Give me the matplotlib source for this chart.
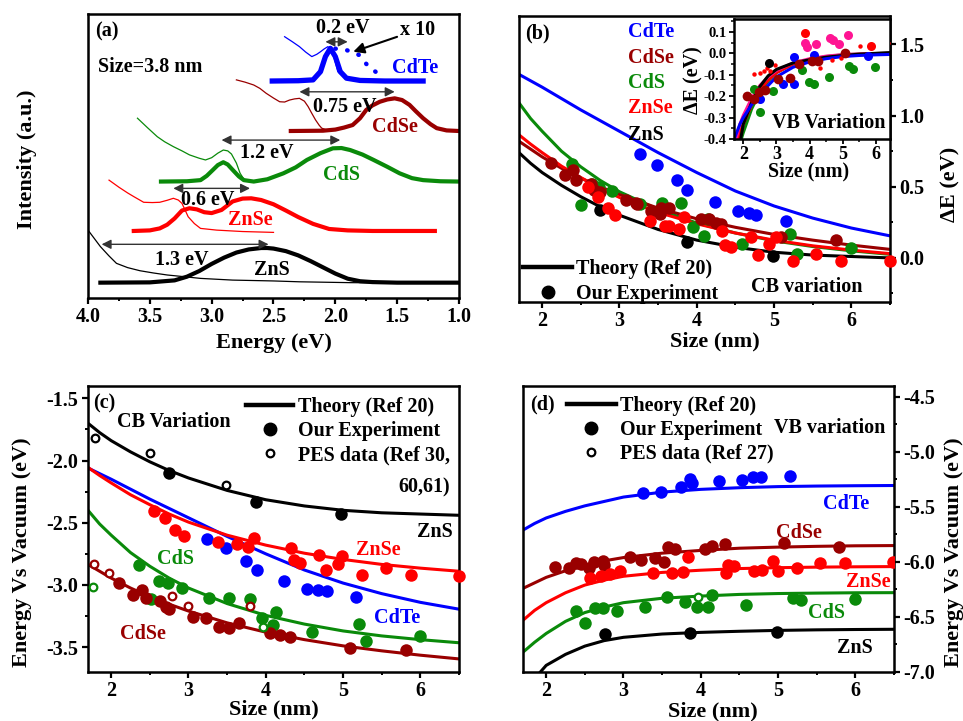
import matplotlib
matplotlib.use('Agg')
import matplotlib.pyplot as plt
from matplotlib.lines import Line2D
from matplotlib.ticker import MultipleLocator, FormatStrFormatter

plt.rcParams['font.family'] = ['Liberation Serif', 'DejaVu Serif']
plt.rcParams['font.weight'] = 'bold'
plt.rcParams['axes.labelweight'] = 'bold'
plt.rcParams['font.size'] = 14.5
plt.rcParams['axes.unicode_minus'] = False
plt.rcParams['axes.linewidth'] = 1.8

BLUE = '#0000ff'
DRED = '#990000'
GREEN = '#0a8a0a'
RED = '#ff0000'
PINK = '#ff1493'
BLACK = '#000000'

# ---------------- panel (a): spectra, size 3.8 nm ----------------
zns_pl_e = [3.90, 3.50, 3.30, 3.20, 3.10, 3.00, 2.90, 2.80, 2.70, 2.60, 2.55, 2.50, 2.40, 2.30, 2.20, 2.10, 2.00, 1.90, 1.80, 1.70, 1.50, 1.00]
zns_pl_i = [0.54, 0.55, 0.62, 0.75, 0.95, 1.20, 1.42, 1.60, 1.71, 1.76, 1.76, 1.74, 1.65, 1.50, 1.30, 1.08, 0.86, 0.68, 0.59, 0.56, 0.54, 0.54]
zns_abs_e = [4.00, 3.95, 3.90, 3.83, 3.77, 3.68, 3.58, 3.47, 3.36, 3.20, 3.09, 2.83, 2.50, 2.29, 1.88, 1.50, 1.00]
zns_abs_i = [2.39, 2.10, 1.81, 1.48, 1.22, 1.07, 0.96, 0.88, 0.81, 0.74, 0.69, 0.63, 0.60, 0.57, 0.54, 0.53, 0.53]

znse_pl_e = [3.63, 3.50, 3.42, 3.36, 3.30, 3.24, 3.18, 3.12, 3.06, 3.00, 2.92, 2.83, 2.75, 2.68, 2.60, 2.50, 2.40, 2.30, 2.18, 2.05, 1.90, 1.70, 1.195]
znse_pl_i = [2.36, 2.38, 2.45, 2.58, 2.80, 3.08, 3.16, 3.12, 3.02, 2.99, 3.10, 3.40, 3.50, 3.51, 3.45, 3.30, 3.08, 2.85, 2.61, 2.43, 2.38, 2.36, 2.36]
znse_abs_e = [3.83, 3.75, 3.68, 3.63, 3.55, 3.48, 3.42, 3.36, 3.31, 3.27, 3.24, 3.21, 3.19, 3.14, 3.09, 2.96, 2.75, 2.50]
znse_abs_i = [4.15, 3.90, 3.70, 3.57, 3.37, 3.36, 3.37, 3.44, 3.51, 3.45, 3.33, 3.05, 2.86, 2.62, 2.45, 2.39, 2.34, 2.31]

cds_pl_e = [3.41, 3.20, 3.09, 3.04, 2.99, 2.95, 2.906, 2.87, 2.83, 2.78, 2.74, 2.66, 2.55, 2.42, 2.32, 2.23, 2.12, 2.02, 1.95, 1.88, 1.78, 1.69, 1.58, 1.48, 1.38, 1.29, 1.15, 1.00]
cds_pl_i = [4.10, 4.11, 4.15, 4.30, 4.51, 4.68, 4.78, 4.70, 4.51, 4.28, 4.15, 4.10, 4.18, 4.39, 4.60, 4.86, 5.10, 5.27, 5.28, 5.21, 5.05, 4.86, 4.62, 4.39, 4.22, 4.15, 4.11, 4.10]
cds_abs_e = [3.60, 3.52, 3.44, 3.38, 3.31, 3.24, 3.18, 3.10, 3.05, 3.00, 2.95, 2.906, 2.87, 2.84, 2.80, 2.77, 2.73]
cds_abs_i = [6.33, 6.00, 5.68, 5.50, 5.33, 5.18, 5.04, 4.92, 4.86, 4.94, 5.10, 5.21, 5.18, 5.07, 4.75, 4.39, 4.12]

cdse_pl_e = [2.36, 2.10, 2.00, 1.93, 1.86, 1.80, 1.75, 1.70, 1.64, 1.58, 1.52, 1.46, 1.40, 1.35, 1.29, 1.23, 1.18, 1.10, 1.00]
cdse_pl_i = [5.88, 5.89, 5.93, 6.00, 6.09, 6.33, 6.62, 6.78, 6.91, 6.99, 7.03, 6.97, 6.80, 6.58, 6.33, 6.12, 5.98, 5.90, 5.88]
cdse_abs_e = [2.80, 2.73, 2.66, 2.61, 2.56, 2.50, 2.45, 2.41, 2.37, 2.33, 2.29, 2.25, 2.22, 2.19, 2.16, 2.13, 2.11, 2.06]
cdse_abs_i = [7.68, 7.60, 7.50, 7.38, 7.21, 7.04, 6.91, 6.90, 6.97, 7.01, 7.03, 6.93, 6.74, 6.50, 6.27, 6.08, 5.98, 5.90]

cdte_pl_e = [2.51, 2.30, 2.18, 2.12, 2.08, 2.04, 2.00, 1.96, 1.91, 1.80, 1.60, 1.29]
cdte_pl_i = [7.64, 7.65, 7.68, 7.97, 8.50, 8.79, 8.50, 7.97, 7.74, 7.66, 7.64, 7.64]
cdte_abs_e = [2.41, 2.35, 2.29, 2.24, 2.19, 2.15, 2.12, 2.09, 2.06, 2.02, 1.98, 1.92]
cdte_abs_i = [9.20, 9.03, 8.85, 8.66, 8.50, 8.58, 8.67, 8.77, 8.85, 8.62, 7.97, 7.74]
cdte_x10_e = [2.00, 1.91, 1.81, 1.73, 1.65]
cdte_x10_i = [8.78, 8.73, 8.56, 8.14, 7.89]

# double arrows (start E, end E, level) and their labels
gap_arrows = [(2.08, 1.90, 9.02), (2.29, 1.52, 7.26), (2.92, 1.96, 5.56), (3.31, 2.69, 3.86), (3.89, 2.54, 1.89)]
gap_labels = ['0.2 eV', '0.75 eV', '1.2 eV', '0.6 eV', '1.3 eV']
gap_label_pos = [(1.94, 9.51), (1.92, 6.74), (2.555, 5.10), (3.03, 3.45), (3.24, 1.34)]

# ---------------- panel (b): CB shift ----------------
th_x = [1.7, 1.85, 2.0, 2.25, 2.5, 2.75, 3.0, 3.5, 4.0, 4.5, 5.0, 5.5, 6.0, 6.5]
b_th_cdte = [1.29, 1.245, 1.20, 1.12, 1.04, 0.965, 0.89, 0.74, 0.60, 0.47, 0.365, 0.28, 0.21, 0.155]
b_th_cds = [1.09, 0.98, 0.89, 0.75, 0.64, 0.545, 0.465, 0.34, 0.245, 0.175, 0.12, 0.08, 0.05, 0.025]
b_th_znse = [0.865, 0.80, 0.74, 0.645, 0.565, 0.49, 0.425, 0.32, 0.24, 0.175, 0.125, 0.085, 0.055, 0.03]
b_th_cdse = [0.82, 0.765, 0.71, 0.63, 0.56, 0.50, 0.445, 0.35, 0.275, 0.215, 0.165, 0.125, 0.09, 0.06]
b_th_zns = [0.74, 0.665, 0.60, 0.51, 0.43, 0.36, 0.30, 0.20, 0.125, 0.075, 0.04, 0.02, 0.01, 0.0]

b_cdte_x = [3.26, 3.49, 3.74, 3.88, 4.24, 4.53, 4.67, 4.77, 5.15]
b_cdte_y = [0.73, 0.65, 0.545, 0.48, 0.39, 0.33, 0.315, 0.30, 0.26]
b_zns_x = [2.75, 3.87, 4.98]
b_zns_y = [0.34, 0.11, 0.01]
b_cds_x = [2.38, 2.50, 2.65, 2.74, 2.91, 3.27, 3.55, 3.80, 3.95, 4.10, 4.14, 4.59, 5.20, 5.30, 6.00]
b_cds_y = [0.66, 0.375, 0.52, 0.50, 0.47, 0.38, 0.385, 0.385, 0.22, 0.155, 0.27, 0.10, 0.17, 0.03, 0.07]
b_znse_x = [2.59, 2.72, 2.85, 2.94, 3.39, 3.59, 3.64, 3.77, 3.84, 4.33, 4.36, 4.44, 4.70, 4.79, 4.94, 5.02, 5.24, 5.54, 5.87, 6.50]
b_znse_y = [0.50, 0.43, 0.35, 0.30, 0.256, 0.225, 0.225, 0.20, 0.29, 0.19, 0.09, 0.08, 0.145, 0.02, 0.10, 0.145, -0.025, 0.03, -0.025, -0.025]
b_cdse_x = [2.11, 2.30, 2.40, 2.44, 2.63, 2.67, 2.75, 3.08, 3.21, 3.23, 3.41, 3.53, 3.54, 3.64, 4.05, 4.16, 4.25, 4.31, 5.09, 5.80]
b_cdse_y = [0.67, 0.58, 0.62, 0.55, 0.52, 0.48, 0.46, 0.41, 0.385, 0.38, 0.33, 0.31, 0.35, 0.35, 0.27, 0.27, 0.245, 0.24, 0.15, 0.127]

# inset of (b): VB shift
in_x = [1.7, 1.8, 1.9, 2.0, 2.25, 2.5, 2.75, 3.0, 3.5, 4.0, 4.5, 5.0, 5.5, 6.0, 6.5]
in_th_blue = [-0.41, -0.37, -0.33, -0.30, -0.24, -0.19, -0.15, -0.11, -0.065, -0.04, -0.025, -0.015, -0.01, -0.007, -0.005]
in_th_black = [-0.64, -0.52, -0.42, -0.33, -0.23, -0.155, -0.105, -0.075, -0.045, -0.03, -0.018, -0.01, -0.004, 0.0, 0.004]
in_th_green = [-0.54, -0.48, -0.42, -0.37, -0.26, -0.18, -0.13, -0.09, -0.05, -0.03, -0.015, -0.007, -0.003, -0.001, 0.0]
in_th_red = [-0.49, -0.43, -0.37, -0.33, -0.24, -0.17, -0.125, -0.09, -0.05, -0.03, -0.017, -0.01, -0.005, -0.002, 0.0]
in_th_pink = [-0.45, -0.39, -0.33, -0.29, -0.21, -0.15, -0.11, -0.08, -0.045, -0.025, -0.013, -0.006, -0.003, -0.001, 0.0]

in_blue_x = [2.51, 3.21, 3.52, 3.54, 4.12, 5.77]
in_blue_y = [-0.213, -0.143, -0.017, -0.143, -0.01, -0.014]
in_green_x = [2.31, 2.51, 2.91, 3.77, 3.99, 4.12, 4.57, 5.17, 5.30, 5.98]
in_green_y = [-0.166, -0.276, -0.174, -0.08, -0.135, -0.143, -0.111, -0.057, -0.072, -0.064]
in_black_x = [2.76]
in_black_y = [-0.046]
in_dred_x = [2.11, 2.31, 2.46, 2.66, 3.06, 3.42, 3.67, 4.07, 4.24, 5.07]
in_dred_y = [-0.198, -0.213, -0.182, -0.171, -0.119, -0.115, -0.049, -0.036, -0.036, 0.001]
in_red_x = [3.86, 5.85]
in_red_y = [0.095, 0.032]
in_pink_x = [3.87, 3.92, 4.20, 4.60, 4.70, 4.87, 5.15]
in_pink_y = [0.048, 0.030, 0.042, 0.073, 0.060, 0.045, 0.084]
in_small_x = [2.31, 2.49, 2.63, 2.72, 2.81, 2.96, 4.32, 4.68, 4.95, 5.52, 6.48]
in_small_y = [-0.096, -0.090, -0.082, -0.070, -0.082, -0.053, -0.069, -0.030, -0.020, 0.032, 0.048]

# ---------------- panel (c): CB vs vacuum ----------------
c_th_zns = [-1.70, -1.775, -1.84, -1.93, -2.01, -2.08, -2.14, -2.24, -2.315, -2.365, -2.40, -2.42, -2.43, -2.44]
c_th_znse = [-2.055, -2.12, -2.18, -2.275, -2.355, -2.43, -2.495, -2.60, -2.68, -2.745, -2.795, -2.835, -2.865, -2.89]
c_th_cdte = [-2.06, -2.105, -2.15, -2.23, -2.31, -2.385, -2.46, -2.61, -2.75, -2.88, -2.985, -3.07, -3.14, -3.195]
c_th_cds = [-2.40, -2.51, -2.60, -2.74, -2.85, -2.945, -3.025, -3.15, -3.245, -3.315, -3.37, -3.41, -3.44, -3.465]
c_th_cdse = [-2.835, -2.89, -2.945, -3.025, -3.095, -3.155, -3.21, -3.305, -3.38, -3.44, -3.49, -3.53, -3.565, -3.595]

c_zns_x = [2.75, 3.87, 4.98]
c_zns_y = [-2.10, -2.33, -2.43]
c_cdte_x = [3.24, 3.49, 3.75, 3.89, 4.24, 4.54, 4.68, 4.79, 5.17]
c_cdte_y = [-2.627, -2.707, -2.809, -2.876, -2.967, -3.029, -3.042, -3.05, -3.096]
c_znse_x = [2.56, 2.70, 2.82, 2.94, 3.38, 3.63, 3.77, 3.85, 4.33, 4.36, 4.44, 4.69, 4.78, 4.93, 4.99, 5.24, 5.55, 5.88, 6.50]
c_znse_y = [-2.405, -2.458, -2.555, -2.608, -2.654, -2.673, -2.694, -2.619, -2.707, -2.796, -2.823, -2.761, -2.882, -2.828, -2.769, -2.922, -2.86, -2.922, -2.93]
c_cds_x = [2.36, 2.52, 2.62, 2.73, 2.92, 3.27, 3.53, 3.79, 3.95, 4.09, 4.13, 4.60, 5.20, 5.30, 6.00]
c_cds_y = [-2.841, -3.117, -2.967, -2.983, -3.023, -3.109, -3.109, -3.115, -3.264, -3.323, -3.216, -3.382, -3.318, -3.452, -3.412]
c_cdse_x = [2.10, 2.28, 2.40, 2.45, 2.63, 2.71, 2.75, 3.06, 3.23, 3.40, 3.53, 3.66, 4.05, 4.18, 4.31, 5.09, 5.81]
c_cdse_y = [-2.988, -3.082, -3.037, -3.109, -3.131, -3.176, -3.197, -3.256, -3.27, -3.337, -3.345, -3.31, -3.385, -3.404, -3.417, -3.511, -3.524]
c_zns_pes_x = [1.79, 2.50, 3.49]
c_zns_pes_y = [-1.819, -1.939, -2.193]
c_cdse_pes_x = [1.78, 1.97, 2.79, 2.99, 3.79]
c_cdse_pes_y = [-2.833, -2.903, -3.09, -3.171, -3.171]
c_cds_pes_x = [1.77, 3.96]
c_cds_pes_y = [-3.015, -3.337]

# ---------------- panel (d): VB vs vacuum ----------------
d_th_cdte = [-5.71, -5.65, -5.60, -5.54, -5.49, -5.45, -5.41, -5.365, -5.34, -5.325, -5.315, -5.31, -5.307, -5.305]
d_th_cdse = [-6.24, -6.19, -6.14, -6.08, -6.03, -5.99, -5.96, -5.92, -5.895, -5.875, -5.865, -5.858, -5.853, -5.851]
d_th_znse = [-6.53, -6.44, -6.37, -6.28, -6.21, -6.165, -6.13, -6.095, -6.075, -6.06, -6.052, -6.047, -6.044, -6.042]
d_th_cds = [-6.82, -6.73, -6.65, -6.54, -6.46, -6.41, -6.37, -6.33, -6.31, -6.295, -6.287, -6.283, -6.28, -6.279]
d_th_zns = [-7.25, -7.06, -6.94, -6.84, -6.765, -6.715, -6.685, -6.655, -6.64, -6.63, -6.622, -6.617, -6.614, -6.612]

d_cdte_x = [3.25, 3.48, 3.74, 3.86, 3.89, 4.24, 4.54, 4.67, 4.78, 5.15]
d_cdte_y = [-5.376, -5.361, -5.321, -5.248, -5.279, -5.261, -5.255, -5.23, -5.23, -5.218]
d_cdse_x = [2.12, 2.29, 2.38, 2.45, 2.56, 2.62, 2.74, 2.75, 3.08, 3.23, 3.41, 3.53, 3.57, 3.67, 4.05, 4.14, 4.32, 5.08, 5.79]
d_cdse_y = [-6.042, -6.058, -6.012, -6.018, -6.058, -5.997, -5.99, -6.03, -5.957, -5.982, -5.96, -5.997, -5.861, -5.885, -5.885, -5.851, -5.839, -5.83, -5.866]
d_znse_x = [2.57, 2.71, 2.82, 2.95, 3.38, 3.63, 3.77, 3.84, 4.33, 4.35, 4.43, 4.69, 4.79, 4.94, 5.00, 5.24, 5.54, 5.87, 6.49]
d_znse_y = [-6.148, -6.127, -6.112, -6.082, -6.103, -6.103, -6.094, -5.952, -6.103, -6.027, -6.036, -6.079, -6.073, -5.991, -6.079, -6.058, -6.006, -6.006, -5.997]
d_cds_x = [2.38, 2.50, 2.63, 2.73, 2.92, 3.28, 3.56, 3.80, 3.95, 4.10, 4.14, 4.59, 5.20, 5.30, 6.00]
d_cds_y = [-6.442, -6.552, -6.421, -6.421, -6.442, -6.412, -6.315, -6.361, -6.406, -6.412, -6.30, -6.391, -6.33, -6.345, -6.339]
d_zns_x = [2.76, 3.86, 4.99]
d_zns_y = [-6.655, -6.643, -6.634]
d_cds_pes_x = [3.96]
d_cds_pes_y = [-6.315]


def style(ax, xmaj, xmin, ymaj=None, ymin=None):
    ax.xaxis.set_major_locator(MultipleLocator(xmaj))
    ax.xaxis.set_minor_locator(MultipleLocator(xmin))
    if ymaj is not None:
        ax.yaxis.set_major_locator(MultipleLocator(ymaj))
        ax.yaxis.set_minor_locator(MultipleLocator(ymin))
    ax.tick_params(which='major', direction='out', length=4.3, width=1.6, pad=2.5, labelsize=14.5)
    ax.tick_params(which='minor', direction='out', length=2.3, width=1.4)
    ax.tick_params(top=False, which='both')
    for sp in ax.spines.values():
        sp.set_linewidth(1.8)


def dots(ax, x, y, color, ms=9, z=3):
    ax.plot(x, y, 'o', color=color, ms=ms, mec=color, mew=0, zorder=z, clip_on=False)


def open_dots(ax, x, y, color, ms=5.5):
    ax.plot(x, y, 'o', mfc='white', mec=color, ms=ms, mew=1.6, zorder=4)


fig = plt.figure(figsize=(9.63, 7.21), dpi=100)

# ---------------- (a) ----------------
axa = fig.add_axes([0.0914, 0.5867, 0.3852, 0.3939])
axa.plot(zns_pl_e, zns_pl_i, color=BLACK, lw=3.0)
axa.plot(zns_abs_e, zns_abs_i, color=BLACK, lw=0.9)
axa.plot(znse_pl_e, znse_pl_i, color=RED, lw=3.0)
axa.plot(znse_abs_e, znse_abs_i, color=RED, lw=0.9)
axa.plot(cds_pl_e, cds_pl_i, color=GREEN, lw=3.0)
axa.plot(cds_abs_e, cds_abs_i, color=GREEN, lw=0.9)
axa.plot(cdse_pl_e, cdse_pl_i, color=DRED, lw=3.0)
axa.plot(cdse_abs_e, cdse_abs_i, color=DRED, lw=0.9)
axa.plot(cdte_pl_e, cdte_pl_i, color=BLUE, lw=3.8)
axa.plot(cdte_abs_e, cdte_abs_i, color=BLUE, lw=0.9)
axa.plot(cdte_x10_e, cdte_x10_i, color=BLUE, lw=3.2, ls=(0, (0.1, 2.6)), dash_capstyle='round')
for (e0, e1, lev), lab, (tx, ty) in zip(gap_arrows, gap_labels, gap_label_pos):
    axa.annotate('', xy=(e1, lev), xytext=(e0, lev),
                 arrowprops=dict(arrowstyle='<|-|>', color='#333333', lw=1.0, mutation_scale=14, shrinkA=0, shrinkB=0))
    axa.text(tx, ty, lab, ha='center', va='center', fontsize=14.5)
axa.annotate('x 10', xy=(1.855, 8.67), xytext=(1.478, 9.44), ha='left', va='center', fontsize=14.5,
             arrowprops=dict(arrowstyle='-|>', color=BLACK, lw=1.5, mutation_scale=16, shrinkA=0, shrinkB=0))
axa.text(1.357, 8.10, 'CdTe', color=BLUE, ha='center', va='center')
axa.text(1.52, 6.03, 'CdSe', color=DRED, ha='center', va='center')
axa.text(1.95, 4.33, 'CdS', color=GREEN, ha='center', va='center')
axa.text(2.69, 2.75, 'ZnSe', color=RED, ha='center', va='center')
axa.text(2.515, 0.99, 'ZnS', color=BLACK, ha='center', va='center')
axa.text(0.019, 0.937, '(a)', transform=axa.transAxes, ha='left', va='center')
axa.text(0.028, 0.813, 'Size=3.8 nm', transform=axa.transAxes, ha='left', va='center')
axa.set_xlim(4.0, 1.0)
axa.set_ylim(0, 10)
style(axa, 0.5, 0.25)
axa.tick_params(axis='y', left=False, labelleft=False, which='both')
axa.xaxis.set_major_formatter(FormatStrFormatter('%.1f'))
axa.set_xlabel('Energy (eV)', fontsize=16, va='center')
axa.xaxis.set_label_coords(0.5, -0.158)
axa.set_ylabel('Intensity (a.u.)', fontsize=16, va='center', ha='center')
axa.yaxis.set_label_coords(-0.165, 0.49)

# ---------------- (b) ----------------
axb = fig.add_axes([0.5389, 0.5811, 0.3853, 0.3967])
axb.plot(th_x, b_th_cdte, color=BLUE, lw=2.2)
axb.plot(th_x, b_th_cds, color=GREEN, lw=2.2)
axb.plot(th_x, b_th_cdse, color=DRED, lw=2.2)
axb.plot(th_x, b_th_znse, color=RED, lw=2.2)
axb.plot(th_x, b_th_zns, color=BLACK, lw=2.2)
dots(axb, b_cds_x, b_cds_y, GREEN)
dots(axb, b_cdse_x, b_cdse_y, DRED)
dots(axb, b_zns_x, b_zns_y, BLACK)
dots(axb, b_znse_x, b_znse_y, RED)
dots(axb, b_cdte_x, b_cdte_y, BLUE)
axb.set_xlim(1.7, 6.5)
axb.set_ylim(-0.31, 1.70)
style(axb, 1, 0.5, 0.5, 0.25)
axb.tick_params(axis='y', left=False, labelleft=False, right=True, labelright=True, which='both')
axb.yaxis.set_major_formatter(FormatStrFormatter('%.1f'))
axb.xaxis.set_major_formatter(FormatStrFormatter('%d'))
axb.yaxis.set_label_position('right')
axb.set_ylabel('ΔE (eV)', fontsize=16, rotation=90, va='center', ha='center')
axb.yaxis.set_label_coords(1.164, 0.413)
axb.set_xlabel('Size (nm)', fontsize=16, va='center')
axb.xaxis.set_label_coords(0.528, -0.138)
axb.text(0.016, 0.94, '(b)', transform=axb.transAxes, ha='left', va='center')
for lab, col, yy in zip(['CdTe', 'CdSe', 'CdS', 'ZnSe', 'ZnS'], [BLUE, DRED, GREEN, RED, BLACK],
                        [0.944, 0.853, 0.766, 0.678, 0.584]):
    axb.text(0.2946, yy, lab, color=col, transform=axb.transAxes, ha='left', va='center')
axb.text(0.775, 0.051, 'CB variation', transform=axb.transAxes, ha='center', va='center')
hb = [Line2D([], [], color=BLACK, lw=3.2), Line2D([], [], ls='', marker='o', color=BLACK, ms=9)]
axb.legend(hb, ['Theory (Ref 20)', 'Our Experiment'], loc='lower left', bbox_to_anchor=(0.0, -0.02),
           frameon=False, handlelength=2.45, handletextpad=0.2, labelspacing=0.25, borderpad=0.2,
           borderaxespad=0, fontsize=14.5)

# inset
axi = fig.add_axes([0.7622, 0.8072, 0.162, 0.1664])
axi.plot(in_x, in_th_green, color=GREEN, lw=2.2)
axi.plot(in_x, in_th_red, color=RED, lw=2.2)
axi.plot(in_x, in_th_pink, color=PINK, lw=2.2)
axi.plot(in_x, in_th_black, color=BLACK, lw=2.2)
axi.plot(in_x, in_th_blue, color=BLUE, lw=2.2)
dots(axi, in_small_x, in_small_y, RED, ms=3.2)
dots(axi, in_green_x, in_green_y, GREEN, ms=6.5)
dots(axi, in_blue_x, in_blue_y, BLUE, ms=6.5)
dots(axi, in_black_x, in_black_y, BLACK, ms=6.5)
dots(axi, in_pink_x, in_pink_y, PINK, ms=6.5)
dots(axi, in_red_x, in_red_y, RED, ms=6.5)
dots(axi, in_dred_x, in_dred_y, DRED, ms=7)
for ln in axi.lines:
    ln.set_clip_on(True)
axi.set_xlim(1.72, 6.42)
axi.set_ylim(-0.4, 0.16)
style(axi, 1, 0.5, 0.1, 0.05)
axi.tick_params(which='major', length=3.5, width=1.3, pad=2, labelsize=10.5)
axi.tick_params(which='minor', length=2, width=1.1)
axi.tick_params(axis='x', labelsize=13, pad=1.5)
axi.yaxis.set_major_formatter(FormatStrFormatter('%.1f'))
axi.xaxis.set_major_formatter(FormatStrFormatter('%d'))
axi.set_xlabel('Size (nm)', fontsize=14.5, va='center')
axi.xaxis.set_label_coords(0.476, -0.27)
axi.set_ylabel('ΔE (eV)', fontsize=14.5, va='center', ha='center')
axi.yaxis.set_label_coords(-0.26, 0.49)
axi.text(0.605, 0.13, 'VB Variation', transform=axi.transAxes, ha='center', va='center')

# ---------------- (c) ----------------
axc = fig.add_axes([0.0914, 0.0680, 0.3852, 0.3967])
axc.plot(th_x, c_th_zns, color=BLACK, lw=2.2)
axc.plot(th_x, c_th_cdte, color=BLUE, lw=2.2)
axc.plot(th_x, c_th_znse, color=RED, lw=2.2)
axc.plot(th_x, c_th_cds, color=GREEN, lw=2.2)
axc.plot(th_x, c_th_cdse, color=DRED, lw=2.2)
dots(axc, c_zns_x, c_zns_y, BLACK)
dots(axc, c_cdte_x, c_cdte_y, BLUE)
dots(axc, c_znse_x, c_znse_y, RED)
dots(axc, c_cds_x, c_cds_y, GREEN)
dots(axc, c_cdse_x, c_cdse_y, DRED)
open_dots(axc, c_zns_pes_x, c_zns_pes_y, BLACK)
open_dots(axc, c_cdse_pes_x, c_cdse_pes_y, DRED)
open_dots(axc, c_cds_pes_x, c_cds_pes_y, GREEN)
axc.set_xlim(1.7, 6.5)
axc.set_ylim(-3.70, -1.40)
style(axc, 1, 0.5, 0.5, 0.25)
axc.yaxis.set_major_formatter(FormatStrFormatter('%.1f'))
axc.xaxis.set_major_formatter(FormatStrFormatter('%d'))
axc.set_xlabel('Size (nm)', fontsize=16, va='center')
axc.xaxis.set_label_coords(0.5, -0.132)
axc.set_ylabel('Energy Vs Vacuum (eV)', fontsize=16, va='center', ha='center')
axc.yaxis.set_label_coords(-0.178, 0.42)
axc.text(0.014, 0.94, '(c)', transform=axc.transAxes, ha='left', va='center')
axc.text(0.23, 0.875, 'CB Variation', transform=axc.transAxes, ha='center', va='center')
axc.text(0.935, 0.49, 'ZnS', color=BLACK, transform=axc.transAxes, ha='center', va='center')
axc.text(0.782, 0.427, 'ZnSe', color=RED, transform=axc.transAxes, ha='center', va='center')
axc.text(0.237, 0.394, 'CdS', color=GREEN, transform=axc.transAxes, ha='center', va='center')
axc.text(0.832, 0.188, 'CdTe', color=BLUE, transform=axc.transAxes, ha='center', va='center')
axc.text(0.149, 0.133, 'CdSe', color=DRED, transform=axc.transAxes, ha='center', va='center')
hc = [Line2D([], [], color=BLACK, lw=3.2),
      Line2D([], [], ls='', marker='o', color=BLACK, ms=9),
      Line2D([], [], ls='', marker='o', mfc='white', mec=BLACK, mew=1.6, ms=5.5)]
axc.legend(hc, ['Theory (Ref 20)', 'Our Experiment', 'PES data (Ref 30,'], loc='upper left',
           bbox_to_anchor=(0.415, 0.975), frameon=False, handlelength=2.35, handletextpad=0.25,
           labelspacing=0.2, borderpad=0.2, borderaxespad=0, fontsize=14.5)
axc.text(0.975, 0.645, '60,61)', transform=axc.transAxes, ha='right', va='center')

# ---------------- (d) ----------------
axd = fig.add_axes([0.5431, 0.0680, 0.3852, 0.3967])
axd.plot(th_x, d_th_cdte, color=BLUE, lw=2.2)
axd.plot(th_x, d_th_cdse, color=DRED, lw=2.2)
axd.plot(th_x, d_th_znse, color=RED, lw=2.2)
axd.plot(th_x, d_th_cds, color=GREEN, lw=2.2)
axd.plot(th_x, d_th_zns, color=BLACK, lw=2.2)
dots(axd, d_cdte_x, d_cdte_y, BLUE)
dots(axd, d_cdse_x, d_cdse_y, DRED)
dots(axd, d_znse_x, d_znse_y, RED)
dots(axd, d_cds_x, d_cds_y, GREEN)
dots(axd, d_zns_x, d_zns_y, BLACK)
open_dots(axd, d_cds_pes_x, d_cds_pes_y, GREEN)
for ln in axd.lines:
    ln.set_clip_on(True)
axd.set_xlim(1.7, 6.5)
axd.set_ylim(-7.0, -4.4)
style(axd, 1, 0.5, 0.5, 0.25)
axd.tick_params(axis='y', left=False, labelleft=False, right=True, labelright=True, which='both')
axd.yaxis.set_major_formatter(FormatStrFormatter('%.1f'))
axd.xaxis.set_major_formatter(FormatStrFormatter('%d'))
axd.yaxis.set_label_position('right')
axd.set_ylabel('Energy Vs Vacuum (eV)', fontsize=16, rotation=90, va='center', ha='center')
axd.yaxis.set_label_coords(1.162, 0.42)
axd.set_xlabel('Size (nm)', fontsize=16, va='center')
axd.xaxis.set_label_coords(0.513, -0.139)
axd.text(0.019, 0.934, '(d)', transform=axd.transAxes, ha='left', va='center')
axd.text(0.827, 0.852, 'VB variation', transform=axd.transAxes, ha='center', va='center')
axd.text(0.872, 0.587, 'CdTe', color=BLUE, transform=axd.transAxes, ha='center', va='center')
axd.text(0.745, 0.487, 'CdSe', color=DRED, transform=axd.transAxes, ha='center', va='center')
axd.text(0.931, 0.316, 'ZnSe', color=RED, transform=axd.transAxes, ha='center', va='center')
axd.text(0.819, 0.207, 'CdS', color=GREEN, transform=axd.transAxes, ha='center', va='center')
axd.text(0.895, 0.083, 'ZnS', color=BLACK, transform=axd.transAxes, ha='center', va='center')
axd.legend(hc, ['Theory (Ref 20)', 'Our Experiment', 'PES data (Ref 27)'], loc='upper left',
           bbox_to_anchor=(0.108, 0.98), frameon=False, handlelength=2.42, handletextpad=0.2,
           labelspacing=0.2, borderpad=0.2, borderaxespad=0, fontsize=14.5)

fig.savefig('out.png', dpi=100)
